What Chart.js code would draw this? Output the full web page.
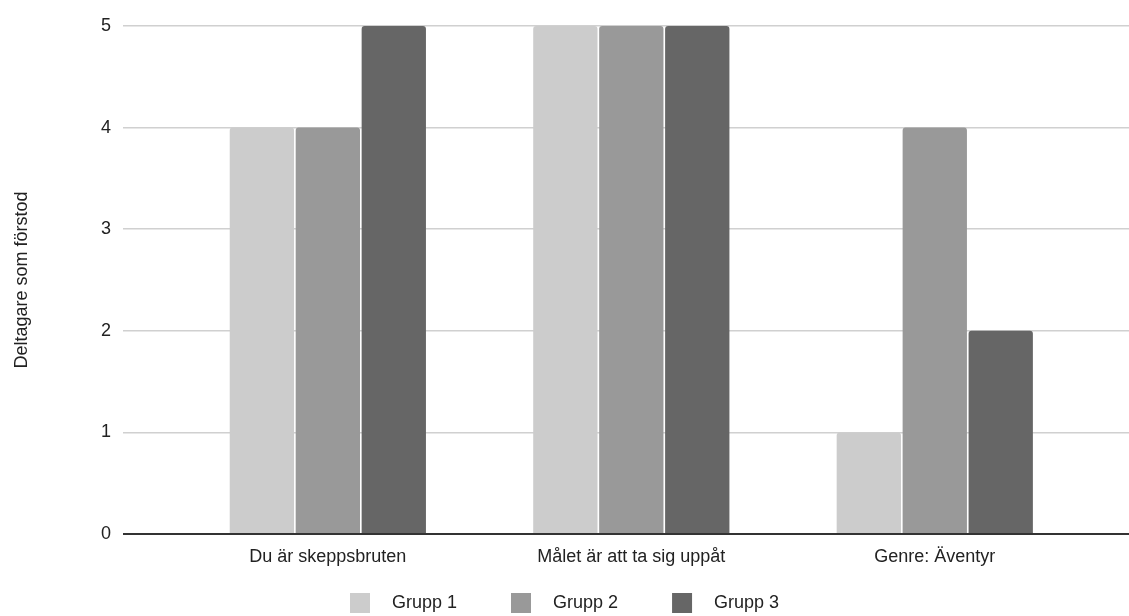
<!DOCTYPE html>
<html>
<head>
<meta charset="utf-8">
<script src="https://cdn.jsdelivr.net/npm/chart.js@4"></script>
<style>
  html, body { margin: 0; padding: 0; background: #ffffff; }
  #wrap { width: 1129px; height: 616px; }
</style>
</head>
<body>
<div id="wrap"><canvas id="c" width="1129" height="616"></canvas></div>
<script>
// Survey results: how many participants understood each statement, per group
const categories = ['Du är skeppsbruten', 'Målet är att ta sig uppåt', 'Genre: Äventyr'];
const seriesNames = ['Grupp 1', 'Grupp 2', 'Grupp 3'];
const grupp1 = [4, 5, 1];
const grupp2 = [4, 5, 4];
const grupp3 = [5, 5, 2];
const yTicks = [0, 1, 2, 3, 4, 5];

const colors = ['#cccccc', '#999999', '#666666'];
const FONT = '"Liberation Sans", Arial, sans-serif';

// Legend swatch: a 20px square placed towards the right of a wider
// transparent canvas, leaving room on both sides of it.
function swatch(color) {
  const cv = document.createElement('canvas');
  cv.width = 63; cv.height = 20;
  const g = cv.getContext('2d');
  g.fillStyle = color;
  g.fillRect(30, 0, 20, 20);
  return cv;
}

const seriesValues = [grupp1, grupp2, grupp3];
const datasets = seriesNames.map((name, i) => ({
  label: name,
  data: seriesValues[i].map((v, k) => ({ x: k, y: v })),
  backgroundColor: colors[i],
  borderWidth: 0,
  borderRadius: { topLeft: 3, topRight: 3, bottomLeft: 0, bottomRight: 0 },
  borderSkipped: 'start',
  categoryPercentage: 0.652,
  barPercentage: 0.975,
  pointStyle: swatch(colors[i])
}));

new Chart(document.getElementById('c'), {
  type: 'bar',
  data: { datasets },
  options: {
    responsive: false,
    animation: false,
    layout: { padding: { top: 26, right: 0, bottom: -6, left: -30 } },
    plugins: {
      tooltip: { enabled: false },
      legend: {
        position: 'bottom',
        labels: {
          usePointStyle: true,
          pointStyleWidth: 63,
          boxHeight: 18,
          padding: 24,
          color: '#222222',
          font: { family: FONT, size: 18 }
        }
      }
    },
    scales: {
      x: {
        type: 'linear',
        min: -0.675,
        max: 2.64,
        offset: false,
        grid: { display: false, drawTicks: false },
        border: { display: false },
        afterBuildTicks: (scale) => {
          scale.ticks = categories.map((_, k) => ({ value: k }));
        },
        afterFit: (scale) => { scale.height = 36; },
        ticks: {
          padding: 12,
          maxRotation: 0,
          autoSkip: false,
          color: '#222222',
          font: { family: FONT, size: 18 },
          callback: (v) => categories[v]
        }
      },
      y: {
        min: 0,
        max: 5,
        afterBuildTicks: (scale) => {
          scale.ticks = yTicks.map(v => ({ value: v }));
        },
        afterFit: (scale) => { scale.width = 153; },
        grid: {
          drawTicks: false,
          color: (ctx) => ctx.tick && ctx.tick.value === 0 ? '#333333' : '#d0d0d0',
          lineWidth: (ctx) => ctx.tick && ctx.tick.value === 0 ? 2 : 1.5
        },
        border: { display: false },
        ticks: {
          padding: 12,
          color: '#222222',
          font: { family: FONT, size: 18 }
        },
        title: {
          display: true,
          text: 'Deltagare som förstod',
          color: '#222222',
          font: { family: FONT, size: 18 },
          padding: { top: 41, bottom: 0 }
        }
      }
    }
  }
});
</script>
</body>
</html>
